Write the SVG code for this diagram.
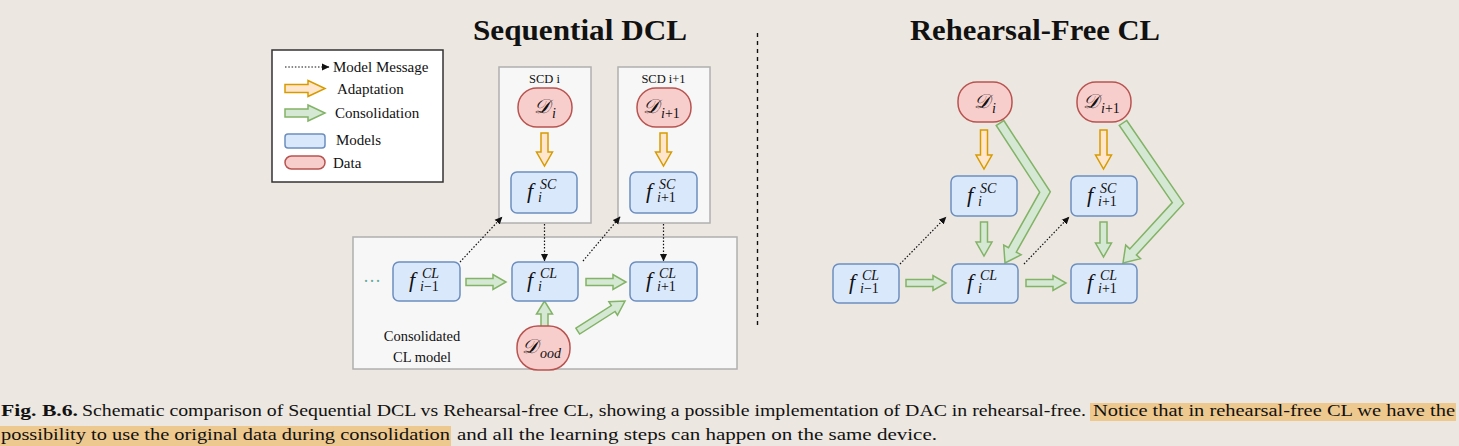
<svg xmlns="http://www.w3.org/2000/svg" width="1459" height="446" viewBox="0 0 1459 446">
<style>
text{font-family:"Liberation Serif","DejaVu Serif",serif;fill:#111}
.title{font-size:29px;font-weight:bold}
.leg{font-size:15px}
.small{font-size:12.5px}
.lbl{font-size:14.5px}
.cap{font-size:16px}
.mf{font-size:22px;font-style:italic}
.ms{font-size:14px;font-style:italic}
.md{font-size:20px;font-family:"DejaVu Serif","Noto Sans",serif;font-style:italic}
.up{font-style:normal}
.model{fill:#dae8fc;stroke:#6c8ebf;stroke-width:1.5}
.data{fill:#f8cecc;stroke:#b85450;stroke-width:1.5}
.adapt{fill:#ffe6cc;stroke:#d79b00;stroke-width:1.5}
.cons{fill:#d5e8d4;stroke:#82b366;stroke-width:1.5}
.cont{fill:#f7f7f7;stroke:#b0b0b0;stroke-width:1.5}
.msg{fill:none;stroke:#111;stroke-width:1.2;stroke-dasharray:1.5 1.8;marker-end:url(#ah)}
.hl{fill:#eec98f}
</style>
<defs>
<marker id="ah" markerWidth="8" markerHeight="8" refX="7" refY="4" orient="auto" markerUnits="userSpaceOnUse">
<path d="M0,0.5 L7.5,4 L0,7.5 Z" fill="#111"/>
</marker>
</defs>
<rect width="1459" height="446" fill="#ece7e0"/>

<!-- titles -->
<text class="title" x="473" y="40" textLength="214" lengthAdjust="spacingAndGlyphs">Sequential DCL</text>
<text class="title" x="910" y="40" textLength="250" lengthAdjust="spacingAndGlyphs">Rehearsal-Free CL</text>
<line x1="757.5" y1="33" x2="757.5" y2="326" stroke="#111" stroke-width="1.4" stroke-dasharray="4 4"/>

<!-- legend -->
<g id="legend">
<rect x="272" y="50" width="171" height="132" fill="#fff" stroke="#333" stroke-width="1.5"/>
<line class="msg" x1="285" y1="67" x2="329" y2="67"/>
<text class="leg" x="333" y="72">Model Message</text>
<path class="adapt" d="M285,84.5 H308 V80.5 L325,88.5 L308,96.5 V92.5 H285 Z"/>
<text class="leg" x="337" y="94">Adaptation</text>
<path class="cons" d="M285,109 H308 V105 L325,113 L308,121 V117 H285 Z"/>
<text class="leg" x="335" y="118">Consolidation</text>
<rect class="model" x="285" y="134" width="40" height="14" rx="3"/>
<text class="leg" x="336" y="145">Models</text>
<rect class="data" x="285" y="156" width="40" height="13" rx="6.5"/>
<text class="leg" x="333" y="168">Data</text>
</g>

<!-- containers -->
<g id="scd-i">
<rect class="cont" x="499" y="67" width="92" height="156"/>
<text class="small" x="544.5" y="83" text-anchor="middle">SCD i</text>
</g>
<g id="scd-i1">
<rect class="cont" x="618" y="67" width="92" height="156"/>
<text class="small" x="663.5" y="83" text-anchor="middle">SCD i+1</text>
</g>
<g id="cl-container">
<rect class="cont" x="353" y="237" width="384" height="132"/>
<text class="lbl" x="422" y="341" text-anchor="middle">Consolidated</text>
<text class="lbl" x="422" y="362" text-anchor="middle">CL model</text>
<text x="363" y="287" font-size="18" style="fill:#67ab9f">···</text>
</g>

<!-- connectors -->
<g id="connectors">
<!-- left -->
<path class="adapt" d="M541,133 V152 H536.5 L544.5,166 L552.5,152 H548 V133 Z"/>
<path class="adapt" d="M660,133 V152 H655.5 L663.5,166 L671.5,152 H667 V133 Z"/>
<path class="cons" d="M466,278.5 H493 V274.5 L506,282 L493,289.5 V285.5 H466 Z"/>
<path class="cons" d="M586,278.5 H613 V274.5 L626,282 L613,289.5 V285.5 H586 Z"/>
<path class="cons" d="M541,327 V314 H536.5 L544.5,301 L552.5,314 H548 V327 Z"/>
<path class="cons" transform="translate(625,301) rotate(-32.5)" d="M-56,-3.5 H-14 V-8 L0,0 L-14,8 V3.5 H-56 Z"/>
<line class="msg" x1="460" y1="262" x2="502" y2="217"/>
<line class="msg" x1="583" y1="261" x2="620" y2="217"/>
<line class="msg" x1="544.5" y1="224" x2="544.5" y2="261"/>
<line class="msg" x1="663.5" y1="224" x2="663.5" y2="261"/>
<!-- right -->
<path class="adapt" d="M980.5,130 V155 H976 L984,169 L992,155 H987.5 V130 Z"/>
<path class="adapt" d="M1100,130 V155 H1095.5 L1103.5,169 L1111.5,155 H1107 V130 Z"/>
<path class="cons" d="M980.5,222 V242 H976 L984,256 L992,242 H987.5 V222 Z"/>
<path class="cons" d="M1100,222 V243 H1095.5 L1103.5,257 L1111.5,243 H1107 V222 Z"/>
<path class="cons" d="M906,279.5 H933 V275.5 L946,283 L933,290.5 V286.5 H906 Z"/>
<path class="cons" d="M1026,279.5 H1053 V275.5 L1066,283 L1053,290.5 V286.5 H1026 Z"/>
<path class="cons" d="M1003.8,120.5 L1050.3,191.8 L1016.3,252.1 L1021.1,254.8 L1005,263 L1003.7,245 L1008.5,247.7 L1039.7,192.2 L996.2,125.5 Z"/>
<path class="cons" d="M1126.7,120.5 L1183.7,203.4 L1136.4,254.9 L1140.5,258.7 L1123,263 L1125.7,245.1 L1129.8,248.9 L1172.3,202.6 L1119.3,125.5 Z"/>
<line class="msg" x1="900" y1="264" x2="946" y2="217"/>
<line class="msg" x1="1024" y1="264" x2="1069" y2="217"/>
</g>

<!-- left nodes -->
<g id="L-Di">
<rect class="data" x="518" y="88" width="54" height="39" rx="19"/>
<text class="md" x="534" y="113">𝒟</text><text class="ms" x="552" y="118">i</text>
</g>
<g id="L-Di1">
<rect class="data" x="637" y="88" width="54" height="39" rx="19"/>
<text class="md" x="643" y="113">𝒟</text><text class="ms" x="661" y="118">i<tspan class="up">+1</tspan></text>
</g>
<g id="L-fSCi">
<rect class="model" x="511" y="172" width="66" height="41" rx="6"/>
<text class="mf" x="527" y="198">f</text><text class="ms" x="540" y="189">SC</text><text class="ms" x="538" y="202">i</text>
</g>
<g id="L-fSCi1">
<rect class="model" x="630" y="172" width="67" height="41" rx="6"/>
<text class="mf" x="646" y="198">f</text><text class="ms" x="659" y="189">SC</text><text class="ms" x="657" y="202">i<tspan class="up">+1</tspan></text>
</g>
<g id="L-fCLim1">
<rect class="model" x="393" y="262" width="67" height="39" rx="6"/>
<text class="mf" x="409" y="287">f</text><text class="ms" x="422" y="278">CL</text><text class="ms" x="420" y="291">i<tspan class="up">−1</tspan></text>
</g>
<g id="L-fCLi">
<rect class="model" x="512" y="262" width="66" height="39" rx="6"/>
<text class="mf" x="527" y="287">f</text><text class="ms" x="540" y="278">CL</text><text class="ms" x="538" y="291">i</text>
</g>
<g id="L-fCLi1">
<rect class="model" x="630" y="262" width="67" height="39" rx="6"/>
<text class="mf" x="646" y="287">f</text><text class="ms" x="659" y="278">CL</text><text class="ms" x="657" y="291">i<tspan class="up">+1</tspan></text>
</g>
<g id="L-Dood">
<rect class="data" x="517" y="326" width="53" height="44" rx="21"/>
<text class="md" x="522" y="353">𝒟</text><text class="ms" x="540" y="358">ood</text>
</g>

<!-- right nodes -->
<g id="R-Di">
<rect class="data" x="958" y="82" width="54" height="40" rx="19"/>
<text class="md" x="974" y="108">𝒟</text><text class="ms" x="992" y="113">i</text>
</g>
<g id="R-Di1">
<rect class="data" x="1077" y="82" width="54" height="40" rx="19"/>
<text class="md" x="1083" y="108">𝒟</text><text class="ms" x="1101" y="113">i<tspan class="up">+1</tspan></text>
</g>
<g id="R-fSCi">
<rect class="model" x="951" y="176" width="66" height="40" rx="6"/>
<text class="mf" x="967" y="202">f</text><text class="ms" x="980" y="193">SC</text><text class="ms" x="978" y="206">i</text>
</g>
<g id="R-fSCi1">
<rect class="model" x="1071" y="176" width="66" height="40" rx="6"/>
<text class="mf" x="1087" y="202">f</text><text class="ms" x="1100" y="193">SC</text><text class="ms" x="1098" y="206">i<tspan class="up">+1</tspan></text>
</g>
<g id="R-fCLim1">
<rect class="model" x="833" y="264" width="66" height="39" rx="6"/>
<text class="mf" x="849" y="289">f</text><text class="ms" x="862" y="280">CL</text><text class="ms" x="860" y="293">i<tspan class="up">−1</tspan></text>
</g>
<g id="R-fCLi">
<rect class="model" x="952" y="264" width="66" height="39" rx="6"/>
<text class="mf" x="967" y="289">f</text><text class="ms" x="980" y="280">CL</text><text class="ms" x="978" y="293">i</text>
</g>
<g id="R-fCLi1">
<rect class="model" x="1071" y="264" width="66" height="39" rx="6"/>
<text class="mf" x="1087" y="289">f</text><text class="ms" x="1100" y="280">CL</text><text class="ms" x="1098" y="293">i<tspan class="up">+1</tspan></text>
</g>

<!-- caption -->
<g id="caption">
<rect class="hl" x="1090" y="403" width="366" height="18"/>
<rect class="hl" x="0" y="426" width="451" height="20"/>
<text class="cap" x="1" y="416" font-weight="bold" textLength="77" lengthAdjust="spacingAndGlyphs">Fig. B.6.</text>
<text class="cap" x="82" y="416" textLength="1004" lengthAdjust="spacingAndGlyphs">Schematic comparison of Sequential DCL vs Rehearsal-free CL, showing a possible implementation of DAC in rehearsal-free.</text>
<text class="cap" x="1093" y="416" textLength="362" lengthAdjust="spacingAndGlyphs">Notice that in rehearsal-free CL we have the</text>
<text class="cap" x="1" y="440" textLength="449" lengthAdjust="spacingAndGlyphs">possibility to use the original data during consolidation</text>
<text class="cap" x="457" y="440" textLength="480" lengthAdjust="spacingAndGlyphs">and all the learning steps can happen on the same device.</text>
</g>
</svg>
